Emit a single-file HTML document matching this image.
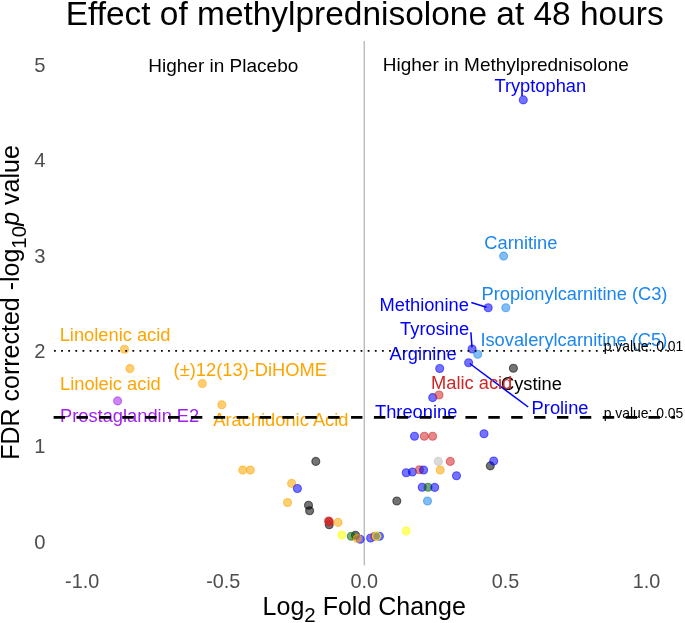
<!DOCTYPE html>
<html><head><meta charset="utf-8"><style>
html,body{margin:0;padding:0;background:#fff;}
svg{display:block;will-change:transform;}
text{font-family:"Liberation Sans",sans-serif;}
</style></head><body>
<svg width="685" height="623" viewBox="0 0 685 623">
<rect width="685" height="623" fill="#fff"/>
<text x="65.7" y="25" font-size="33.45" fill="#000">Effect of methylprednisolone at 48 hours</text>
<text x="45.5" y="548.63" font-size="20.2" fill="#4D4D4D" text-anchor="end">0</text>
<text x="45.5" y="453.28" font-size="20.2" fill="#4D4D4D" text-anchor="end">1</text>
<text x="45.5" y="357.93" font-size="20.2" fill="#4D4D4D" text-anchor="end">2</text>
<text x="45.5" y="262.58" font-size="20.2" fill="#4D4D4D" text-anchor="end">3</text>
<text x="45.5" y="167.23" font-size="20.2" fill="#4D4D4D" text-anchor="end">4</text>
<text x="45.5" y="71.88" font-size="20.2" fill="#4D4D4D" text-anchor="end">5</text>
<text x="82.1" y="588" font-size="19.8" fill="#4D4D4D" text-anchor="middle">-1.0</text>
<text x="223.2" y="588" font-size="19.8" fill="#4D4D4D" text-anchor="middle">-0.5</text>
<text x="364.3" y="588" font-size="19.8" fill="#4D4D4D" text-anchor="middle">0.0</text>
<text x="505.4" y="588" font-size="19.8" fill="#4D4D4D" text-anchor="middle">0.5</text>
<text x="646.5" y="588" font-size="19.8" fill="#4D4D4D" text-anchor="middle">1.0</text>
<text x="262.6" y="614.8" font-size="25" fill="#000">Log<tspan font-size="20.5" dy="6.8">2</tspan><tspan dy="-6.8"> Fold Change</tspan></text>
<text transform="translate(19,459.8) rotate(-90)" font-size="25" fill="#000">FDR corrected -log<tspan font-size="20.5" dy="6.6">10</tspan><tspan dy="-6.6" font-style="italic">p</tspan> value</text>
<line x1="364.3" y1="41" x2="364.3" y2="565.5" stroke="#BEBEBE" stroke-width="1.5"/>
<text x="148.3" y="71.5" font-size="19" fill="#000">Higher in Placebo</text>
<text x="382.8" y="71.4" font-size="19" fill="#000">Higher in Methylprednisolone</text>
<circle cx="124.5" cy="349.2" r="4.0" fill="#FFA500" fill-opacity="0.55" stroke="#FFA500" stroke-opacity="0.55" stroke-width="1.1"/>
<circle cx="129.9" cy="368.6" r="4.0" fill="#FFA500" fill-opacity="0.55" stroke="#FFA500" stroke-opacity="0.55" stroke-width="1.1"/>
<circle cx="117.6" cy="400.9" r="4.0" fill="#A020F0" fill-opacity="0.55" stroke="#A020F0" stroke-opacity="0.55" stroke-width="1.1"/>
<circle cx="202.3" cy="383.5" r="4.0" fill="#FFA500" fill-opacity="0.55" stroke="#FFA500" stroke-opacity="0.55" stroke-width="1.1"/>
<circle cx="221.8" cy="404.8" r="4.0" fill="#FFA500" fill-opacity="0.55" stroke="#FFA500" stroke-opacity="0.55" stroke-width="1.1"/>
<circle cx="242.7" cy="470.1" r="4.0" fill="#FFA500" fill-opacity="0.55" stroke="#FFA500" stroke-opacity="0.55" stroke-width="1.1"/>
<circle cx="250.3" cy="470.1" r="4.0" fill="#FFA500" fill-opacity="0.55" stroke="#FFA500" stroke-opacity="0.55" stroke-width="1.1"/>
<circle cx="291.6" cy="483.4" r="4.0" fill="#FFA500" fill-opacity="0.55" stroke="#FFA500" stroke-opacity="0.55" stroke-width="1.1"/>
<circle cx="297.4" cy="488.5" r="4.0" fill="#0000FF" fill-opacity="0.55" stroke="#0000FF" stroke-opacity="0.55" stroke-width="1.1"/>
<circle cx="287.5" cy="502.5" r="4.0" fill="#FFA500" fill-opacity="0.55" stroke="#FFA500" stroke-opacity="0.55" stroke-width="1.1"/>
<circle cx="315.8" cy="461.4" r="4.0" fill="#000000" fill-opacity="0.55" stroke="#000000" stroke-opacity="0.55" stroke-width="1.1"/>
<circle cx="308.5" cy="505.3" r="4.0" fill="#000000" fill-opacity="0.55" stroke="#000000" stroke-opacity="0.55" stroke-width="1.1"/>
<circle cx="309.6" cy="510.7" r="4.0" fill="#000000" fill-opacity="0.55" stroke="#000000" stroke-opacity="0.55" stroke-width="1.1"/>
<circle cx="329.2" cy="524.8" r="4.0" fill="#000000" fill-opacity="0.55" stroke="#000000" stroke-opacity="0.55" stroke-width="1.1"/>
<circle cx="328.6" cy="521.0" r="4.0" fill="#CD2626" fill-opacity="0.55" stroke="#CD2626" stroke-opacity="0.55" stroke-width="1.1"/>
<circle cx="329.0" cy="521.4" r="4.0" fill="#CD2626" fill-opacity="0.55" stroke="#CD2626" stroke-opacity="0.55" stroke-width="1.1"/>
<circle cx="329.3" cy="522.0" r="4.0" fill="#CD2626" fill-opacity="0.55" stroke="#CD2626" stroke-opacity="0.55" stroke-width="1.1"/>
<circle cx="338.0" cy="522.4" r="4.0" fill="#FFA500" fill-opacity="0.55" stroke="#FFA500" stroke-opacity="0.55" stroke-width="1.1"/>
<circle cx="341.8" cy="535.1" r="4.0" fill="#FFFF00" fill-opacity="0.55" stroke="#FFFF00" stroke-opacity="0.55" stroke-width="1.1"/>
<circle cx="355.5" cy="535.3" r="4.0" fill="#000000" fill-opacity="0.55" stroke="#000000" stroke-opacity="0.55" stroke-width="1.1"/>
<circle cx="351.3" cy="536.2" r="4.0" fill="#006400" fill-opacity="0.55" stroke="#006400" stroke-opacity="0.55" stroke-width="1.1"/>
<circle cx="360.2" cy="539.3" r="4.0" fill="#0000FF" fill-opacity="0.55" stroke="#0000FF" stroke-opacity="0.55" stroke-width="1.1"/>
<circle cx="357.3" cy="538.5" r="4.0" fill="#FFA500" fill-opacity="0.55" stroke="#FFA500" stroke-opacity="0.55" stroke-width="1.1"/>
<circle cx="370.6" cy="538.0" r="4.0" fill="#0000FF" fill-opacity="0.55" stroke="#0000FF" stroke-opacity="0.55" stroke-width="1.1"/>
<circle cx="379.4" cy="536.2" r="4.0" fill="#0000FF" fill-opacity="0.55" stroke="#0000FF" stroke-opacity="0.55" stroke-width="1.1"/>
<circle cx="374.7" cy="536.2" r="4.0" fill="#CD2626" fill-opacity="0.55" stroke="#CD2626" stroke-opacity="0.55" stroke-width="1.1"/>
<circle cx="376.6" cy="536.2" r="4.0" fill="#A09664" stroke="#DCD23C" stroke-width="1.3"/>
<circle cx="406.2" cy="531.1" r="4.0" fill="#FFFF00" fill-opacity="0.55" stroke="#FFFF00" stroke-opacity="0.55" stroke-width="1.1"/>
<circle cx="396.8" cy="501.0" r="4.0" fill="#000000" fill-opacity="0.55" stroke="#000000" stroke-opacity="0.55" stroke-width="1.1"/>
<circle cx="427.5" cy="501.0" r="4.0" fill="#1C86EE" fill-opacity="0.55" stroke="#1C86EE" stroke-opacity="0.55" stroke-width="1.1"/>
<circle cx="422.2" cy="487.3" r="4.0" fill="#0000FF" fill-opacity="0.55" stroke="#0000FF" stroke-opacity="0.55" stroke-width="1.1"/>
<circle cx="428.0" cy="487.3" r="4.0" fill="#006400" fill-opacity="0.55" stroke="#006400" stroke-opacity="0.55" stroke-width="1.1"/>
<circle cx="434.7" cy="487.4" r="4.0" fill="#0000FF" fill-opacity="0.55" stroke="#0000FF" stroke-opacity="0.55" stroke-width="1.1"/>
<circle cx="406.2" cy="472.8" r="4.0" fill="#0000FF" fill-opacity="0.55" stroke="#0000FF" stroke-opacity="0.55" stroke-width="1.1"/>
<circle cx="412.4" cy="472.0" r="4.0" fill="#0000FF" fill-opacity="0.55" stroke="#0000FF" stroke-opacity="0.55" stroke-width="1.1"/>
<circle cx="419.4" cy="469.8" r="4.0" fill="#CD2626" fill-opacity="0.55" stroke="#CD2626" stroke-opacity="0.55" stroke-width="1.1"/>
<circle cx="423.6" cy="470.0" r="4.0" fill="#0000FF" fill-opacity="0.55" stroke="#0000FF" stroke-opacity="0.55" stroke-width="1.1"/>
<circle cx="440.2" cy="470.0" r="4.0" fill="#FFA500" fill-opacity="0.55" stroke="#FFA500" stroke-opacity="0.55" stroke-width="1.1"/>
<circle cx="438.3" cy="461.4" r="4.0" fill="#BEBEBE" fill-opacity="0.55" stroke="#BEBEBE" stroke-opacity="0.55" stroke-width="1.1"/>
<circle cx="450.3" cy="461.4" r="4.0" fill="#CD2626" fill-opacity="0.55" stroke="#CD2626" stroke-opacity="0.55" stroke-width="1.1"/>
<circle cx="456.5" cy="475.7" r="4.0" fill="#0000FF" fill-opacity="0.55" stroke="#0000FF" stroke-opacity="0.55" stroke-width="1.1"/>
<circle cx="490.3" cy="465.9" r="4.0" fill="#000000" fill-opacity="0.55" stroke="#000000" stroke-opacity="0.55" stroke-width="1.1"/>
<circle cx="493.7" cy="461.0" r="4.0" fill="#0000FF" fill-opacity="0.55" stroke="#0000FF" stroke-opacity="0.55" stroke-width="1.1"/>
<circle cx="484.0" cy="433.8" r="4.0" fill="#0000FF" fill-opacity="0.55" stroke="#0000FF" stroke-opacity="0.55" stroke-width="1.1"/>
<circle cx="414.5" cy="436.2" r="4.0" fill="#0000FF" fill-opacity="0.55" stroke="#0000FF" stroke-opacity="0.55" stroke-width="1.1"/>
<circle cx="424.3" cy="436.2" r="4.0" fill="#CD2626" fill-opacity="0.55" stroke="#CD2626" stroke-opacity="0.55" stroke-width="1.1"/>
<circle cx="432.6" cy="436.2" r="4.0" fill="#CD2626" fill-opacity="0.55" stroke="#CD2626" stroke-opacity="0.55" stroke-width="1.1"/>
<circle cx="432.7" cy="397.6" r="4.0" fill="#0000FF" fill-opacity="0.55" stroke="#0000FF" stroke-opacity="0.55" stroke-width="1.1"/>
<circle cx="439.0" cy="395.0" r="4.0" fill="#CD2626" fill-opacity="0.55" stroke="#CD2626" stroke-opacity="0.55" stroke-width="1.1"/>
<circle cx="439.7" cy="368.5" r="4.0" fill="#0000FF" fill-opacity="0.55" stroke="#0000FF" stroke-opacity="0.55" stroke-width="1.1"/>
<circle cx="468.6" cy="362.7" r="4.0" fill="#0000FF" fill-opacity="0.55" stroke="#0000FF" stroke-opacity="0.55" stroke-width="1.1"/>
<circle cx="472.1" cy="349.0" r="4.0" fill="#0000FF" fill-opacity="0.55" stroke="#0000FF" stroke-opacity="0.55" stroke-width="1.1"/>
<circle cx="477.7" cy="354.2" r="4.0" fill="#1C86EE" fill-opacity="0.55" stroke="#1C86EE" stroke-opacity="0.55" stroke-width="1.1"/>
<circle cx="488.2" cy="307.8" r="4.0" fill="#0000FF" fill-opacity="0.55" stroke="#0000FF" stroke-opacity="0.55" stroke-width="1.1"/>
<circle cx="505.8" cy="307.8" r="4.0" fill="#1C86EE" fill-opacity="0.55" stroke="#1C86EE" stroke-opacity="0.55" stroke-width="1.1"/>
<circle cx="513.4" cy="368.3" r="4.0" fill="#000000" fill-opacity="0.55" stroke="#000000" stroke-opacity="0.55" stroke-width="1.1"/>
<circle cx="503.6" cy="256.1" r="4.0" fill="#1C86EE" fill-opacity="0.55" stroke="#1C86EE" stroke-opacity="0.55" stroke-width="1.1"/>
<circle cx="523.3" cy="99.9" r="4.0" fill="#0000FF" fill-opacity="0.55" stroke="#0000FF" stroke-opacity="0.55" stroke-width="1.1"/>
<line x1="471.3" y1="302.5" x2="486.5" y2="307.3" stroke="#0000FF" stroke-width="1.5"/>
<line x1="470.9" y1="332.3" x2="472.0" y2="347.4" stroke="#0000FF" stroke-width="1.5"/>
<line x1="469.7" y1="363.5" x2="528.2" y2="407.0" stroke="#0000FF" stroke-width="1.5"/>
<text x="494.4" y="92.4" font-size="18.3" fill="#0000FF">Tryptophan</text>
<text x="484.3" y="248.7" font-size="18.3" fill="#1C86EE">Carnitine</text>
<text x="481.5" y="299.6" font-size="18.3" fill="#1C86EE">Propionylcarnitine (C3)</text>
<text x="379.5" y="310.7" font-size="18.3" fill="#0000FF">Methionine</text>
<text x="400.1" y="335.2" font-size="18.3" fill="#0000FF">Tyrosine</text>
<text x="480.4" y="346.1" font-size="18.3" fill="#1C86EE">Isovalerylcarnitine (C5)</text>
<text x="389.5" y="360.0" font-size="18.3" fill="#0000FF">Arginine</text>
<text x="501.0" y="389.5" font-size="18.3" fill="#000000">Cystine</text>
<text x="431.0" y="389.4" font-size="18.3" fill="#CD2626">Malic acid</text>
<text x="531.6" y="413.7" font-size="18.3" fill="#0000FF">Proline</text>
<text x="375.0" y="418.0" font-size="18.3" fill="#0000FF">Threonine</text>
<text x="59.7" y="341.3" font-size="18.3" fill="#FFA500">Linolenic acid</text>
<text x="60.0" y="389.5" font-size="18.3" fill="#FFA500">Linoleic acid</text>
<text x="60.0" y="422.3" font-size="18.3" fill="#A020F0">Prostaglandin E2</text>
<text x="173.6" y="376.1" font-size="18.3" fill="#FFA500">(±)12(13)-DiHOME</text>
<text x="213.3" y="426.0" font-size="18.3" fill="#FFA500">Arachidonic Acid</text>
<line x1="54.0" y1="350.85" x2="675" y2="350.85" stroke="#000" stroke-width="1.78" stroke-dasharray="1.78 5.35"/>
<line x1="53.6" y1="417.35" x2="675" y2="417.35" stroke="#000" stroke-width="2.86" stroke-dasharray="11.44 11.44"/>
<text x="603.7" y="351" font-size="13.9" fill="#000">p.value: 0.01</text>
<text x="603.7" y="417.5" font-size="13.9" fill="#000">p.value: 0.05</text>
</svg>
</body></html>
